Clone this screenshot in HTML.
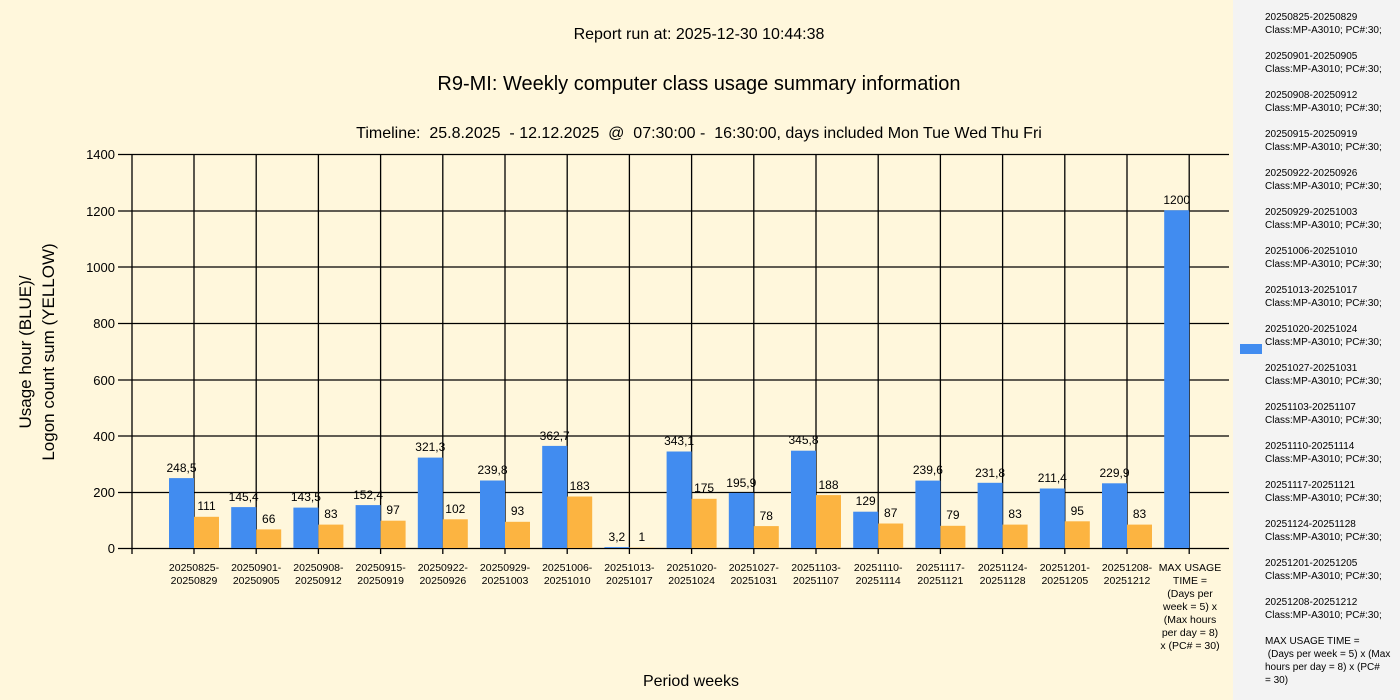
<!DOCTYPE html>
<html><head><meta charset="utf-8"><style>
html,body{margin:0;padding:0;width:1400px;height:700px;overflow:hidden;background:#FFF7DC}
svg{display:block}
text{font-family:"Liberation Sans",sans-serif;fill:#000}
.v{font-size:12px;text-anchor:middle}
.x{font-size:10.5px;text-anchor:middle}
.y{font-size:13px;text-anchor:end}
.l{font-size:10px}
</style></head><body>
<svg width="1400" height="700" xmlns="http://www.w3.org/2000/svg">
<rect x="0" y="0" width="1233" height="700" fill="#FFF7DC"/>
<rect x="1233" y="0" width="167" height="700" fill="#F3F3F3"/>
<text x="699" y="39" font-size="16" text-anchor="middle">Report run at: 2025-12-30 10:44:38</text>
<text x="699" y="90" font-size="20" text-anchor="middle">R9-MI: Weekly computer class usage summary information</text>
<text x="699" y="138" font-size="16" text-anchor="middle" xml:space="preserve">Timeline:  25.8.2025  - 12.12.2025  @  07:30:00 -  16:30:00, days included Mon Tue Wed Thu Fri</text>
<text x="691" y="686" font-size="16" text-anchor="middle">Period weeks</text>
<g transform="translate(0,352) rotate(-90)">
<text x="0" y="31" font-size="17" text-anchor="middle">Usage hour (BLUE)/</text>
<text x="0" y="54" font-size="17" text-anchor="middle">Logon count sum (YELLOW)</text>
</g>
<g stroke="#000" stroke-width="1.3">
<line x1="118" y1="154.5" x2="1229" y2="154.5"/>
<line x1="118" y1="211" x2="1229" y2="211"/>
<line x1="118" y1="267" x2="1229" y2="267"/>
<line x1="118" y1="323.5" x2="1229" y2="323.5"/>
<line x1="118" y1="380" x2="1229" y2="380"/>
<line x1="118" y1="436" x2="1229" y2="436"/>
<line x1="118" y1="492.5" x2="1229" y2="492.5"/>
<line x1="118" y1="548.5" x2="1229" y2="548.5"/>
<line x1="132" y1="154" x2="132" y2="554"/>
<line x1="194" y1="154" x2="194" y2="554"/>
<line x1="256.2" y1="154" x2="256.2" y2="554"/>
<line x1="318.4" y1="154" x2="318.4" y2="554"/>
<line x1="380.6" y1="154" x2="380.6" y2="554"/>
<line x1="442.8" y1="154" x2="442.8" y2="554"/>
<line x1="505" y1="154" x2="505" y2="554"/>
<line x1="567.2" y1="154" x2="567.2" y2="554"/>
<line x1="629.4" y1="154" x2="629.4" y2="554"/>
<line x1="691.6" y1="154" x2="691.6" y2="554"/>
<line x1="753.8" y1="154" x2="753.8" y2="554"/>
<line x1="816" y1="154" x2="816" y2="554"/>
<line x1="878.2" y1="154" x2="878.2" y2="554"/>
<line x1="940.4" y1="154" x2="940.4" y2="554"/>
<line x1="1002.6" y1="154" x2="1002.6" y2="554"/>
<line x1="1064.8" y1="154" x2="1064.8" y2="554"/>
<line x1="1127" y1="154" x2="1127" y2="554"/>
<line x1="1189.2" y1="154" x2="1189.2" y2="554"/>
</g>
<text class="y" x="115" y="159">1400</text>
<text class="y" x="115" y="216">1200</text>
<text class="y" x="115" y="272">1000</text>
<text class="y" x="115" y="328">800</text>
<text class="y" x="115" y="385">600</text>
<text class="y" x="115" y="441">400</text>
<text class="y" x="115" y="497">200</text>
<text class="y" x="115" y="553">0</text>
<g fill="#418CF0">
<rect x="169" y="478.1" width="25" height="69.9"/>
<rect x="231.2" y="507.1" width="25" height="40.9"/>
<rect x="293.4" y="507.6" width="25" height="40.4"/>
<rect x="355.6" y="505.1" width="25" height="42.9"/>
<rect x="417.8" y="457.6" width="25" height="90.4"/>
<rect x="480" y="480.5" width="25" height="67.5"/>
<rect x="542.2" y="445.9" width="25" height="102.1"/>
<rect x="604.4" y="547.1" width="25" height="0.9"/>
<rect x="666.6" y="451.5" width="25" height="96.5"/>
<rect x="728.8" y="492.9" width="25" height="55.1"/>
<rect x="791" y="450.7" width="25" height="97.3"/>
<rect x="853.2" y="511.7" width="25" height="36.3"/>
<rect x="915.4" y="480.6" width="25" height="67.4"/>
<rect x="977.6" y="482.8" width="25" height="65.2"/>
<rect x="1039.8" y="488.5" width="25" height="59.5"/>
<rect x="1102" y="483.3" width="25" height="64.7"/>
<rect x="1164.2" y="210.3" width="25" height="337.7"/>
</g>
<g fill="#FCB441">
<rect x="194" y="516.8" width="25" height="31.2"/>
<rect x="256.2" y="529.4" width="25" height="18.6"/>
<rect x="318.4" y="524.6" width="25" height="23.4"/>
<rect x="380.6" y="520.7" width="25" height="27.3"/>
<rect x="442.8" y="519.3" width="25" height="28.7"/>
<rect x="505" y="521.8" width="25" height="26.2"/>
<rect x="567.2" y="496.5" width="25" height="51.5"/>
<rect x="629.4" y="547.7" width="25" height="0.3"/>
<rect x="691.6" y="498.8" width="25" height="49.2"/>
<rect x="753.8" y="526.1" width="25" height="21.9"/>
<rect x="816" y="495.1" width="25" height="52.9"/>
<rect x="878.2" y="523.5" width="25" height="24.5"/>
<rect x="940.4" y="525.8" width="25" height="22.2"/>
<rect x="1002.6" y="524.6" width="25" height="23.4"/>
<rect x="1064.8" y="521.3" width="25" height="26.7"/>
<rect x="1127" y="524.6" width="25" height="23.4"/>
</g>
<g>
<text class="v" x="181.5" y="472">248,5</text>
<text class="v" x="243.7" y="501">145,4</text>
<text class="v" x="305.9" y="501">143,5</text>
<text class="v" x="368.1" y="499">152,4</text>
<text class="v" x="430.3" y="451">321,3</text>
<text class="v" x="492.5" y="474">239,8</text>
<text class="v" x="554.7" y="440">362,7</text>
<text class="v" x="616.9" y="541">3,2</text>
<text class="v" x="679.1" y="445">343,1</text>
<text class="v" x="741.3" y="487">195,9</text>
<text class="v" x="803.5" y="444">345,8</text>
<text class="v" x="865.7" y="505">129</text>
<text class="v" x="927.9" y="474">239,6</text>
<text class="v" x="990.1" y="477">231,8</text>
<text class="v" x="1052.3" y="482">211,4</text>
<text class="v" x="1114.5" y="477">229,9</text>
<text class="v" x="1176.7" y="204">1200</text>
<text class="v" x="206.5" y="510">111</text>
<text class="v" x="268.7" y="523">66</text>
<text class="v" x="330.9" y="518">83</text>
<text class="v" x="393.1" y="514">97</text>
<text class="v" x="455.3" y="513">102</text>
<text class="v" x="517.5" y="515">93</text>
<text class="v" x="579.7" y="490">183</text>
<text class="v" x="641.9" y="541">1</text>
<text class="v" x="704.1" y="492">175</text>
<text class="v" x="766.3" y="520">78</text>
<text class="v" x="828.5" y="489">188</text>
<text class="v" x="890.7" y="517">87</text>
<text class="v" x="952.9" y="519">79</text>
<text class="v" x="1015.1" y="518">83</text>
<text class="v" x="1077.3" y="515">95</text>
<text class="v" x="1139.5" y="518">83</text>
</g>
<g>
<text class="x" x="194" y="571">20250825-</text><text class="x" x="194" y="584">20250829</text>
<text class="x" x="256.2" y="571">20250901-</text><text class="x" x="256.2" y="584">20250905</text>
<text class="x" x="318.4" y="571">20250908-</text><text class="x" x="318.4" y="584">20250912</text>
<text class="x" x="380.6" y="571">20250915-</text><text class="x" x="380.6" y="584">20250919</text>
<text class="x" x="442.8" y="571">20250922-</text><text class="x" x="442.8" y="584">20250926</text>
<text class="x" x="505" y="571">20250929-</text><text class="x" x="505" y="584">20251003</text>
<text class="x" x="567.2" y="571">20251006-</text><text class="x" x="567.2" y="584">20251010</text>
<text class="x" x="629.4" y="571">20251013-</text><text class="x" x="629.4" y="584">20251017</text>
<text class="x" x="691.6" y="571">20251020-</text><text class="x" x="691.6" y="584">20251024</text>
<text class="x" x="753.8" y="571">20251027-</text><text class="x" x="753.8" y="584">20251031</text>
<text class="x" x="816" y="571">20251103-</text><text class="x" x="816" y="584">20251107</text>
<text class="x" x="878.2" y="571">20251110-</text><text class="x" x="878.2" y="584">20251114</text>
<text class="x" x="940.4" y="571">20251117-</text><text class="x" x="940.4" y="584">20251121</text>
<text class="x" x="1002.6" y="571">20251124-</text><text class="x" x="1002.6" y="584">20251128</text>
<text class="x" x="1064.8" y="571">20251201-</text><text class="x" x="1064.8" y="584">20251205</text>
<text class="x" x="1127" y="571">20251208-</text><text class="x" x="1127" y="584">20251212</text>
<text class="x" x="1190" y="571">MAX USAGE</text>
<text class="x" x="1190" y="584">TIME =</text>
<text class="x" x="1190" y="597">(Days per</text>
<text class="x" x="1190" y="610">week = 5) x</text>
<text class="x" x="1190" y="623">(Max hours</text>
<text class="x" x="1190" y="636">per day = 8)</text>
<text class="x" x="1190" y="649">x (PC# = 30)</text>
</g>
<rect x="1240" y="344" width="22" height="10" fill="#418CF0"/>
<g>
<text class="l" x="1265" y="20">20250825-20250829</text><text class="l" x="1265" y="33">Class:MP-A3010; PC#:30;</text>
<text class="l" x="1265" y="59">20250901-20250905</text><text class="l" x="1265" y="72">Class:MP-A3010; PC#:30;</text>
<text class="l" x="1265" y="98">20250908-20250912</text><text class="l" x="1265" y="111">Class:MP-A3010; PC#:30;</text>
<text class="l" x="1265" y="137">20250915-20250919</text><text class="l" x="1265" y="150">Class:MP-A3010; PC#:30;</text>
<text class="l" x="1265" y="176">20250922-20250926</text><text class="l" x="1265" y="189">Class:MP-A3010; PC#:30;</text>
<text class="l" x="1265" y="215">20250929-20251003</text><text class="l" x="1265" y="228">Class:MP-A3010; PC#:30;</text>
<text class="l" x="1265" y="254">20251006-20251010</text><text class="l" x="1265" y="267">Class:MP-A3010; PC#:30;</text>
<text class="l" x="1265" y="293">20251013-20251017</text><text class="l" x="1265" y="306">Class:MP-A3010; PC#:30;</text>
<text class="l" x="1265" y="332">20251020-20251024</text><text class="l" x="1265" y="345">Class:MP-A3010; PC#:30;</text>
<text class="l" x="1265" y="371">20251027-20251031</text><text class="l" x="1265" y="384">Class:MP-A3010; PC#:30;</text>
<text class="l" x="1265" y="410">20251103-20251107</text><text class="l" x="1265" y="423">Class:MP-A3010; PC#:30;</text>
<text class="l" x="1265" y="449">20251110-20251114</text><text class="l" x="1265" y="462">Class:MP-A3010; PC#:30;</text>
<text class="l" x="1265" y="488">20251117-20251121</text><text class="l" x="1265" y="501">Class:MP-A3010; PC#:30;</text>
<text class="l" x="1265" y="527">20251124-20251128</text><text class="l" x="1265" y="540">Class:MP-A3010; PC#:30;</text>
<text class="l" x="1265" y="566">20251201-20251205</text><text class="l" x="1265" y="579">Class:MP-A3010; PC#:30;</text>
<text class="l" x="1265" y="605">20251208-20251212</text><text class="l" x="1265" y="618">Class:MP-A3010; PC#:30;</text>
<text class="l" x="1265" y="644">MAX USAGE TIME =</text>
<text class="l" x="1265" y="657" xml:space="preserve"> (Days per week = 5) x (Max</text>
<text class="l" x="1265" y="670">hours per day = 8) x (PC#</text>
<text class="l" x="1265" y="683">= 30)</text>
</g>
</svg>
</body></html>
